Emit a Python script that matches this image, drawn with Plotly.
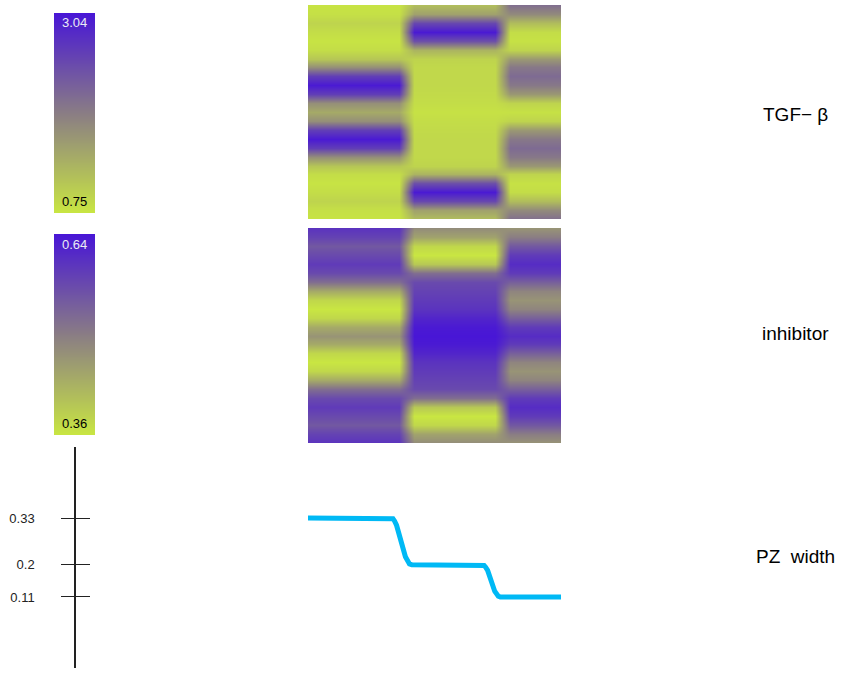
import plotly.graph_objects as go

# ---------------- data ----------------
# time positions (fraction of the run) of the columns in the space-time maps
time_cols = [0.0, 0.36, 0.42, 0.74, 0.80, 1.0]
# spatial positions (0 = top edge, 1 = bottom edge)
space_rows = [i / 24 for i in range(25)]

# TGF-beta profiles along space for the three stages
tgf_stage1 = [0.78, 0.82, 0.95, 0.85, 0.78, 0.85, 1.10, 1.70, 2.60, 3.00, 2.60, 1.70, 1.40,
              1.70, 2.60, 3.00, 2.60, 1.70, 1.10, 0.85, 0.78, 0.85, 0.95, 0.82, 0.78]
tgf_stage2 = [1.20, 1.50, 2.50, 3.00, 2.40, 1.30, 0.95, 0.90, 0.90, 0.90, 0.88, 0.85, 0.80,
              0.85, 0.88, 0.90, 0.90, 0.90, 0.95, 1.30, 2.40, 3.00, 2.50, 1.50, 1.20]
tgf_stage3 = [2.05, 1.75, 1.20, 0.85, 0.80, 0.95, 1.60, 1.95, 2.10, 1.95, 1.60, 0.95, 0.80,
              0.95, 1.60, 1.95, 2.10, 1.95, 1.60, 0.95, 0.80, 0.85, 1.20, 1.75, 2.05]

# inhibitor profiles along space for the three stages
inh_stage1 = [0.60, 0.58, 0.55, 0.57, 0.59, 0.57, 0.52, 0.44, 0.38, 0.36, 0.38, 0.44, 0.47,
              0.44, 0.38, 0.36, 0.38, 0.44, 0.52, 0.57, 0.59, 0.57, 0.55, 0.58, 0.60]
inh_stage2 = [0.48, 0.45, 0.38, 0.36, 0.40, 0.52, 0.57, 0.58, 0.59, 0.60, 0.62, 0.635, 0.64,
              0.635, 0.62, 0.60, 0.59, 0.58, 0.57, 0.52, 0.40, 0.36, 0.38, 0.45, 0.48]
inh_stage3 = [0.47, 0.50, 0.55, 0.59, 0.61, 0.59, 0.54, 0.49, 0.47, 0.49, 0.54, 0.59, 0.61,
              0.59, 0.54, 0.49, 0.47, 0.49, 0.54, 0.59, 0.61, 0.59, 0.55, 0.50, 0.47]

tgf_range = [0.75, 3.04]
inh_range = [0.36, 0.64]

# PZ width over time
pz_time = [0.0, 0.330, 0.336, 0.342, 0.350, 0.385, 0.394, 0.401, 0.410,
           0.690, 0.696, 0.702, 0.710, 0.738, 0.746, 0.752, 0.760, 1.0]
pz_width = [0.33, 0.33, 0.328, 0.322, 0.310, 0.222, 0.208, 0.202, 0.20,
            0.20, 0.198, 0.193, 0.184, 0.126, 0.116, 0.112, 0.11, 0.11]
pz_ticks = [0.33, 0.2, 0.11]

row_labels = ["TGF\u2212 \u03b2", "inhibitor", "PZ  width"]

# ---------------- figure ----------------
W, H = 842, 677
def fx(px): return px / W
def fy(py): return 1 - py / H

cscale = [[0.0, "rgb(201,230,66)"], [0.5, "rgb(138,125,132)"], [1.0, "rgb(72,22,214)"]]

def build_z(s1, s2, s3):
    cols = [s1, s1, s2, s2, s3, s3]
    return [[cols[c][r] for c in range(len(cols))] for r in range(len(space_rows))]

fig = go.Figure()

# space-time maps
fig.add_trace(go.Heatmap(x=time_cols, y=space_rows, z=build_z(tgf_stage1, tgf_stage2, tgf_stage3),
                         zmin=tgf_range[0], zmax=tgf_range[1], colorscale=cscale, zsmooth="best",
                         showscale=False, hoverinfo="skip", xaxis="x", yaxis="y"))
fig.add_trace(go.Heatmap(x=time_cols, y=space_rows, z=build_z(inh_stage1, inh_stage2, inh_stage3),
                         zmin=inh_range[0], zmax=inh_range[1], colorscale=cscale, zsmooth="best",
                         showscale=False, hoverinfo="skip", xaxis="x2", yaxis="y2"))

# colour keys
fig.add_trace(go.Heatmap(x=[0, 1], y=[0, 1], z=[[tgf_range[0]] * 2, [tgf_range[1]] * 2],
                         zmin=tgf_range[0], zmax=tgf_range[1], colorscale=cscale, zsmooth="best",
                         showscale=False, hoverinfo="skip", xaxis="x4", yaxis="y5"))
fig.add_trace(go.Heatmap(x=[0, 1], y=[0, 1], z=[[inh_range[0]] * 2, [inh_range[1]] * 2],
                         zmin=inh_range[0], zmax=inh_range[1], colorscale=cscale, zsmooth="best",
                         showscale=False, hoverinfo="skip", xaxis="x5", yaxis="y6"))

# PZ width line
fig.add_trace(go.Scatter(x=pz_time, y=pz_width, mode="lines",
                         line=dict(color="rgb(0,185,245)", width=5, shape="linear"),
                         hoverinfo="skip", xaxis="x3", yaxis="y3", cliponaxis=False))

hid = dict(visible=False, showgrid=False, zeroline=False)
map_x = [fx(308), fx(561)]
yr = [-0.088, 0.528]

fig.update_layout(
    width=W, height=H, margin=dict(l=0, r=0, t=0, b=0),
    paper_bgcolor="white", plot_bgcolor="white", showlegend=False,
    font=dict(family="Liberation Sans, Arial, sans-serif", color="black"),
    xaxis=dict(domain=map_x, range=[0, 1], anchor="y", **hid),
    yaxis=dict(domain=[fy(219), fy(5)], range=[1, 0], anchor="x", **hid),
    xaxis2=dict(domain=map_x, range=[0, 1], anchor="y2", **hid),
    yaxis2=dict(domain=[fy(443), fy(228)], range=[1, 0], anchor="x2", **hid),
    xaxis3=dict(domain=map_x, range=[0, 1], anchor="y3", **hid),
    yaxis3=dict(domain=[fy(668), fy(447)], range=yr, anchor="free", position=fx(75),
                showgrid=False, zeroline=False, showline=True, linecolor="#222", linewidth=1.5,
                ticks="outside", ticklen=13, tickwidth=1.2, tickcolor="#222",
                tickvals=pz_ticks, ticktext=[str(v) for v in pz_ticks],
                tickfont=dict(size=13, color="#222"), ticklabelstandoff=24),
    yaxis4=dict(domain=[fy(668), fy(447)], range=yr, anchor="free", position=fx(75),
                overlaying="y3", showgrid=False, zeroline=False, showline=False,
                ticks="inside", ticklen=14, tickwidth=1.2, tickcolor="#222",
                tickvals=pz_ticks, showticklabels=False),
    xaxis4=dict(domain=[fx(54), fx(95)], range=[0, 1], anchor="y5", **hid),
    yaxis5=dict(domain=[fy(213), fy(13)], range=[0, 1], anchor="x4", **hid),
    xaxis5=dict(domain=[fx(54), fx(95)], range=[0, 1], anchor="y6", **hid),
    yaxis6=dict(domain=[fy(435), fy(234)], range=[0, 1], anchor="x5", **hid),
)

# dummy trace to activate yaxis4
fig.add_trace(go.Scatter(x=[None], y=[None], xaxis="x3", yaxis="y4", hoverinfo="skip"))

# key labels
key_labels = [(f"{tgf_range[1]:.2f}", 22, "rgb(235,235,245)"), (f"{tgf_range[0]:.2f}", 201, "black"),
              (f"{inh_range[1]:.2f}", 244, "rgb(235,235,245)"), (f"{inh_range[0]:.2f}", 423, "black")]
for txt, py, col in key_labels:
    fig.add_annotation(x=fx(74.5), y=fy(py), xref="paper", yref="paper", text=txt, showarrow=False,
                       font=dict(size=13, color=col), xanchor="center", yanchor="middle")

for txt, py in zip(row_labels, [114, 333, 556]):
    fig.add_annotation(x=fx(795), y=fy(py), xref="paper", yref="paper", text=txt, showarrow=False,
                       font=dict(size=19, color="black"), xanchor="center", yanchor="middle")

fig.write_html("out.html", config={"displayModeBar": False},
               post_script="document.body.style.margin='0';document.body.style.overflow='hidden';")
